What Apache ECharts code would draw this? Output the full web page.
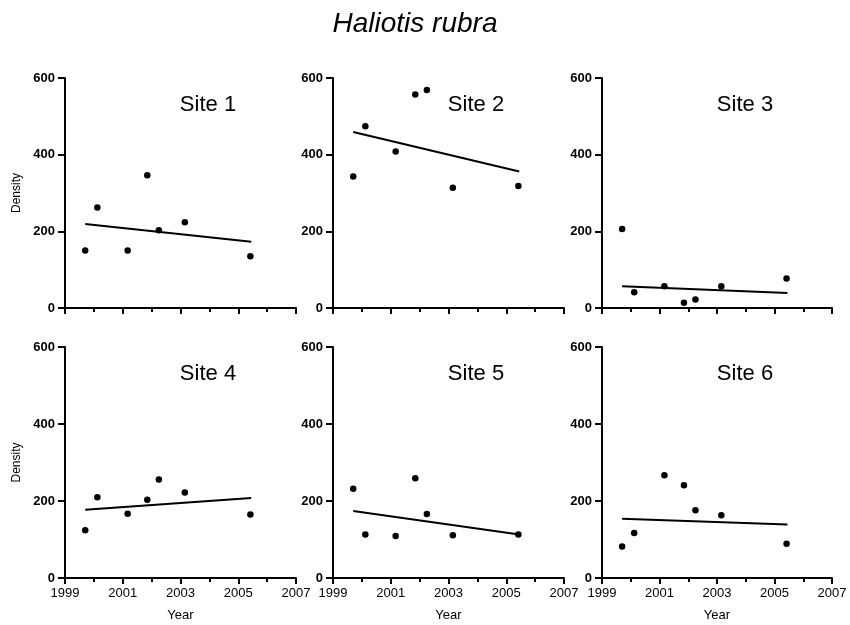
<!DOCTYPE html>
<html>
<head>
<meta charset="utf-8">
<script src="https://cdn.jsdelivr.net/npm/echarts@6/dist/echarts.min.js"></script>
<style>
html,body{margin:0;padding:0;background:#fff;}
#chart{width:850px;height:625px;}
</style>
</head>
<body>
<div id="chart"></div>
<script>
// ---- Data ----
const chartTitle = 'Haliotis rubra';
const siteNames = ['Site 1', 'Site 2', 'Site 3', 'Site 4', 'Site 5', 'Site 6'];
const sampleYears = [1999.7, 2000.12, 2001.17, 2001.85, 2002.25, 2003.15, 2005.42];
const fitYears = [1999.7, 2005.45];
const site1 = [150, 262, 150, 346, 203, 224, 135];
const site2 = [343, 474, 408, 557, 569, 314, 318];
const site3 = [206, 41, 57, 14, 22, 57, 77];
const site4 = [124, 210, 167, 203, 256, 222, 165];
const site5 = [232, 113, 109, 259, 166, 111, 113];
const site6 = [82, 117, 267, 241, 176, 163, 89];
const fit1 = [219, 173];
const fit2 = [459, 356];
const fit3 = [57, 39];
const fit4 = [177, 208];
const fit5 = [174, 113];
const fit6 = [154, 139];
const yearTicks = [1999, 2001, 2003, 2005, 2007];
const densityTicks = [0, 200, 400, 600];
const xLabel = 'Year';
const yLabel = 'Density';

// ---- Build ----
const siteValues = [site1, site2, site3, site4, site5, site6];
const siteFits = [fit1, fit2, fit3, fit4, fit5, fit6];
const YEAR0 = yearTicks[0];
const FONT = 'Arial, "Liberation Sans", Helvetica, sans-serif';

const colLeft = [65, 333, 602];
const colWidth = [231, 231, 230];
const rowTop = [78, 347];
const rowHeight = [230, 231];

const grids = [], xAxes = [], yAxes = [], series = [], graphics = [];

for (let i = 0; i < 6; i++) {
  const r = Math.floor(i / 3), c = i % 3;
  grids.push({
    left: colLeft[c], top: rowTop[r], width: colWidth[c], height: rowHeight[r],
    containLabel: false, outerBoundsMode: 'none'
  });
  xAxes.push({
    type: 'value', gridIndex: i,
    min: 0, max: yearTicks[yearTicks.length - 1] - YEAR0, interval: 2,
    name: r === 1 ? xLabel : '',
    nameLocation: 'middle', nameGap: 31,
    nameTextStyle: { color: '#000', fontSize: 13, fontFamily: FONT },
    axisLine: { show: true, onZero: false, lineStyle: { color: '#000', width: 2 } },
    axisTick: { show: true, length: 6, lineStyle: { color: '#000', width: 2 } },
    minorTick: { show: true, splitNumber: 2, length: 4, lineStyle: { color: '#000', width: 2 } },
    axisLabel: {
      show: r === 1, color: '#000', fontSize: 13, fontFamily: FONT, margin: 9,
      formatter: v => String(v + YEAR0)
    },
    splitLine: { show: false }, minorSplitLine: { show: false }
  });
  yAxes.push({
    type: 'value', gridIndex: i,
    min: densityTicks[0], max: densityTicks[densityTicks.length - 1], interval: 200,
    axisLine: { show: true, onZero: false, lineStyle: { color: '#000', width: 2 } },
    axisTick: { show: true, length: 7, lineStyle: { color: '#000', width: 2 } },
    axisLabel: { color: '#000', fontSize: 13, fontWeight: 'bold', fontFamily: FONT, margin: 10 },
    splitLine: { show: false }
  });
  series.push({
    type: 'scatter', xAxisIndex: i, yAxisIndex: i,
    symbol: 'circle', symbolSize: 6.5,
    itemStyle: { color: '#000', opacity: 1 },
    data: sampleYears.map((y, k) => [y - YEAR0, siteValues[i][k]]),
    silent: true
  });
  series.push({
    type: 'line', xAxisIndex: i, yAxisIndex: i,
    symbol: 'none',
    lineStyle: { color: '#000', width: 2 },
    data: fitYears.map((y, k) => [y - YEAR0, siteFits[i][k]]),
    silent: true
  });
  // site label
  graphics.push({
    type: 'text',
    x: colLeft[c] + 143, y: rowTop[r] + 27,
    style: {
      text: siteNames[i], fill: '#000', fontSize: 22, fontFamily: FONT,
      align: 'center', verticalAlign: 'middle'
    }
  });
  if (c === 0) {
    graphics.push({
      type: 'text',
      x: 17, y: rowTop[r] + rowHeight[r] / 2,
      rotation: Math.PI / 2,
      style: {
        text: yLabel, fill: '#000', fontSize: 12, fontFamily: FONT,
        align: 'center', verticalAlign: 'middle'
      }
    });
  }
}

graphics.push({
  type: 'text', x: 415, y: 24,
  style: {
    text: chartTitle, fill: '#000', fontSize: 28, fontStyle: 'italic', fontFamily: FONT,
    align: 'center', verticalAlign: 'middle'
  }
});

const chart = echarts.init(document.getElementById('chart'), null, { renderer: 'canvas' });
chart.setOption({
  backgroundColor: '#fff',
  animation: false,
  grid: grids,
  xAxis: xAxes,
  yAxis: yAxes,
  series: series,
  graphic: graphics
});
</script>
</body>
</html>
